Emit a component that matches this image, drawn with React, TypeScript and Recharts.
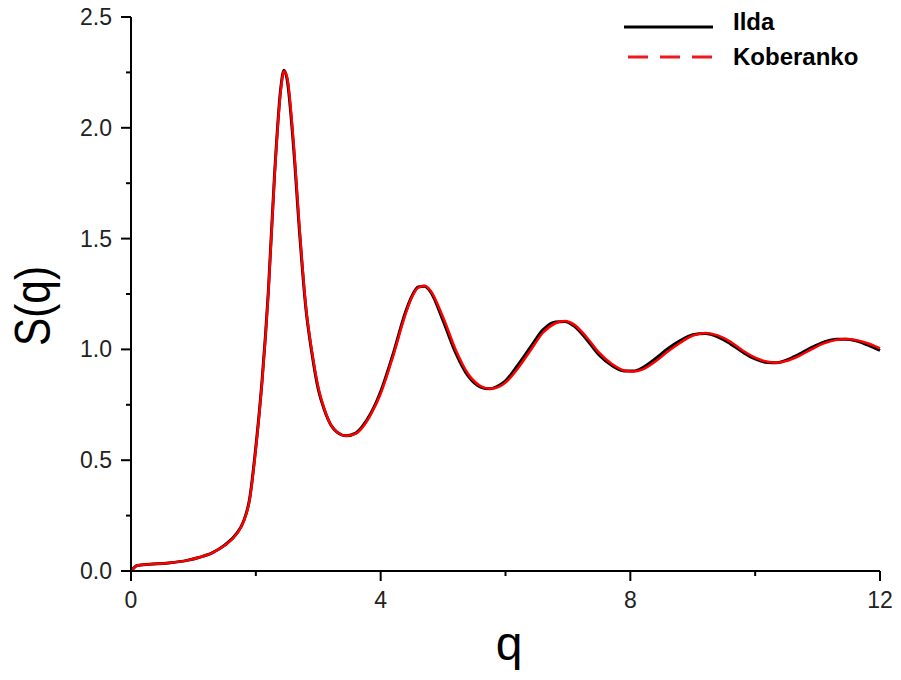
import React from 'react';
import { LineChart, Line, XAxis, YAxis, Label } from 'recharts';

const qValues = [0, 0.1, 0.3, 0.6, 0.9, 1.1, 1.3, 1.5, 1.7, 1.8, 1.9, 2.0, 2.1, 2.2, 2.3, 2.4, 2.45, 2.5, 2.6, 2.7, 2.8, 2.9, 3.0, 3.1, 3.2, 3.3, 3.45, 3.6, 3.7, 3.85, 4.0, 4.2, 4.4, 4.5, 4.6, 4.7, 4.8, 5.0, 5.2, 5.4, 5.6, 5.75, 5.9, 6.0, 6.2, 6.4, 6.6, 6.8, 6.95, 7.1, 7.3, 7.5, 7.7, 7.9, 8.05, 8.2, 8.4, 8.6, 8.8, 9.0, 9.2, 9.4, 9.6, 9.8, 10.0, 10.2, 10.35, 10.5, 10.7, 10.9, 11.1, 11.3, 11.45, 11.6, 11.8, 12.0];

const koberankoValues = [0, 0.025, 0.03, 0.036, 0.048, 0.062, 0.082, 0.115, 0.17, 0.22, 0.32, 0.55, 0.85, 1.25, 1.78, 2.17, 2.255, 2.23, 1.95, 1.55, 1.2, 0.99, 0.83, 0.73, 0.66, 0.628, 0.61, 0.62, 0.645, 0.71, 0.8, 0.97, 1.16, 1.235, 1.278, 1.287, 1.265, 1.145, 1.0, 0.89, 0.835, 0.822, 0.832, 0.85, 0.915, 0.995, 1.075, 1.118, 1.128, 1.112, 1.055, 0.985, 0.935, 0.905, 0.9, 0.91, 0.945, 0.99, 1.03, 1.062, 1.074, 1.063, 1.035, 0.995, 0.963, 0.944, 0.94, 0.948, 0.97, 1.0, 1.027, 1.043, 1.047, 1.043, 1.028, 1.005];

const ildaValues = [0, 0.025, 0.03, 0.036, 0.048, 0.062, 0.082, 0.117, 0.172, 0.222, 0.325, 0.56, 0.86, 1.26, 1.79, 2.18, 2.26, 2.22, 1.93, 1.53, 1.19, 0.98, 0.82, 0.725, 0.66, 0.627, 0.61, 0.622, 0.65, 0.715, 0.81, 0.98, 1.17, 1.24, 1.282, 1.285, 1.26, 1.13, 0.985, 0.88, 0.83, 0.822, 0.838, 0.858, 0.93, 1.01, 1.088, 1.124, 1.126, 1.105, 1.045, 0.975, 0.928, 0.903, 0.902, 0.918, 0.958, 1.003, 1.04, 1.066, 1.072, 1.057, 1.026, 0.988, 0.957, 0.941, 0.94, 0.952, 0.978, 1.008, 1.033, 1.046, 1.046, 1.04, 1.02, 0.995];

const xTicks = [0, 2, 4, 6, 8, 10, 12];
const xMajorTicks = [0, 4, 8, 12];
const yTicks = [0, 0.25, 0.5, 0.75, 1.0, 1.25, 1.5, 1.75, 2.0, 2.25, 2.5];
const yMajorTicks = [0, 0.5, 1.0, 1.5, 2.0, 2.5];
const seriesNames = ['Ilda', 'Koberanko'];

const data = qValues.map((q, i) => ({ q, ilda: ildaValues[i], koberanko: koberankoValues[i] }));

const FONT = '"Liberation Sans", Arial, sans-serif';
const RED = '#f01820';

const XTick = (props: any) => {
  const { x, y, payload } = props;
  const major = xMajorTicks.includes(payload.value);
  return (
    <g>
      <line x1={x} x2={x} y1={y} y2={y + (major ? 10 : 5)} stroke="#000" strokeWidth={2} />
      {major && (
        <text x={x} y={y + 37} textAnchor="middle" fontSize={23} fontFamily={FONT} fill="#222">
          {payload.value}
        </text>
      )}
    </g>
  );
};

const YTick = (props: any) => {
  const { x, y, payload } = props;
  const major = yMajorTicks.some((v) => Math.abs(v - payload.value) < 1e-9);
  return (
    <g>
      <line x1={x - (major ? 10 : 5)} x2={x} y1={y} y2={y} stroke="#000" strokeWidth={2} />
      {major && (
        <text x={x - 19} y={y + 8} textAnchor="end" fontSize={23} fontFamily={FONT} fill="#222">
          {Number(payload.value).toFixed(1)}
        </text>
      )}
    </g>
  );
};

const YTitle = () => (
  <text
    x={50}
    y={306}
    transform="rotate(-90 50 306)"
    textAnchor="middle"
    fontSize={50}
    fontFamily={FONT}
    fill="#000"
    textLength={80}
    lengthAdjust="spacingAndGlyphs"
  >
    S(q)
  </text>
);

const XTitle = () => (
  <text x={509} y={660} textAnchor="middle" fontSize={48} fontFamily={FONT} fill="#000">
    q
  </text>
);

const LegendBox = () => (
  <svg width={300} height={80} style={{ position: 'absolute', left: 600, top: 0 }}>
    <line x1={24} x2={113} y1={27} y2={27} stroke="#000" strokeWidth={3} />
    <text x={133} y={30} fontSize={24} fontWeight="bold" fontFamily={FONT} fill="#000">
      {seriesNames[0]}
    </text>
    <line x1={28} x2={113} y1={57} y2={57} stroke={RED} strokeWidth={3} strokeDasharray="20 12" />
    <text x={133} y={65} fontSize={24} fontWeight="bold" fontFamily={FONT} fill="#000">
      {seriesNames[1]}
    </text>
  </svg>
);

export default function App() {
  return (
    <div style={{ position: 'relative', width: 901, height: 680, margin: '-8px 0 0 -8px', background: '#fff' }}>
      <LineChart width={901} height={680} data={data} margin={{ top: 17, right: 21, left: 0, bottom: 0 }}>
        <XAxis
          dataKey="q"
          type="number"
          domain={[0, 12]}
          ticks={xTicks}
          interval={0}
          height={109}
          tickSize={0}
          tickMargin={0}
          tickLine={false}
          tick={<XTick />}
          axisLine={{ stroke: '#000', strokeWidth: 2 }}
        >
          <Label content={<XTitle />} />
        </XAxis>
        <YAxis
          type="number"
          domain={[0, 2.5]}
          ticks={yTicks}
          interval={0}
          width={131}
          tickSize={0}
          tickMargin={0}
          tickLine={false}
          tick={<YTick />}
          axisLine={{ stroke: '#000', strokeWidth: 2 }}
        >
          <Label content={<YTitle />} />
        </YAxis>
        <Line
          type="monotone"
          dataKey="ilda"
          name={seriesNames[0]}
          stroke="#000"
          strokeWidth={3}
          dot={false}
          isAnimationActive={false}
        />
        <Line
          type="monotone"
          dataKey="koberanko"
          name={seriesNames[1]}
          stroke="#ff0000"
          strokeWidth={2.5}
          dot={false}
          isAnimationActive={false}
        />
      </LineChart>
      <LegendBox />
    </div>
  );
}
